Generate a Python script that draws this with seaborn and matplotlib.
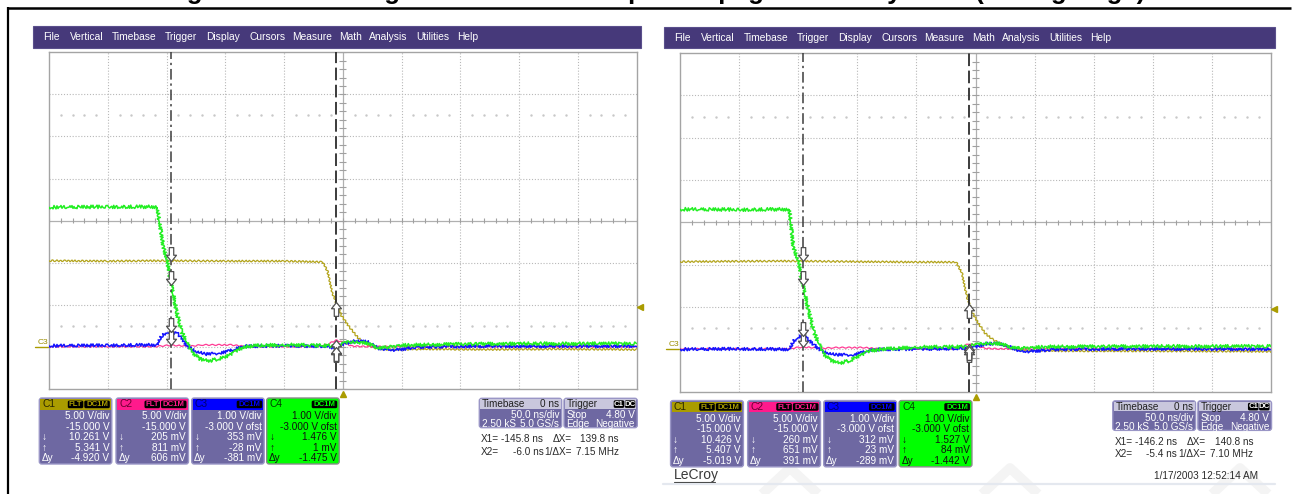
import matplotlib
matplotlib.use("Agg")
import numpy as np
import pandas as pd
import matplotlib.pyplot as plt
import seaborn as sns
from matplotlib.patches import FancyBboxPatch, Rectangle
from matplotlib.path import Path
from matplotlib.markers import MarkerStyle

W, H, DPI = 1298, 494, 100

sns.set_theme(style="white")
plt.rcParams["font.family"] = ["Liberation Sans", "DejaVu Sans"]

# ---------------------------------------------------------------- data
TITLE = "Figure 8. Switching Waveforms of Output Propagation Delay Time (Falling Edge)"

MENU_ITEMS = ["File", "Vertical", "Timebase", "Trigger", "Display", "Cursors",
              "Measure", "Math", "Analysis", "Utilities", "Help"]
MENU_X = [-6, 21, 63, 116, 157, 200, 243, 290, 320, 367, 408]

CHANNELS = ["C1", "C2", "C3", "C4"]
VOLTS_PER_DIV = [5.0, 5.0, 1.0, 1.0]
OFFSET_V = [-15.0, -15.0, -3.0, -3.0]
VDIV_TEXT = ["5.00 V/div", "5.00 V/div", "1.00 V/div", "1.00 V/div"]
OFFSET_TEXT = ["-15.000 V", "-15.000 V", "-3.000 V ofst", "-3.000 V ofst"]
COUPLING = [["FLT", "DC1M"], ["FLT", "DC1M"], ["DC1M"], ["DC1M"]]
CH_COLORS = ["#b3a41c", "#ff3b94", "#1414ff", "#22ee22"]
HEADER_COLORS = ["#aa9c00", "#ff1a8c", "#0000ff", "#00ff00"]
HEADER_TEXT = ["#2a2600", "#6a0030", "#00006a", "#004000"]

NS_PER_DIV = 50.0
SAMPLES_TEXT, RATE_TEXT = "2.50 kS", "5.0 GS/s"
TRIG_DELAY_NS = 0.0
TRIG_LEVEL_V = 4.80
TRIG_MODE, TRIG_SLOPE = "Stop", "Negative"

# Acquisition A (left screen)
a_c1_t = [-250, -200, -150, -100, -50, -17, -13, -9, -6, -1, 6, 13, 20, 29, 40, 70, 120, 180, 250]
a_c1_v = [10.25, 10.2, 10.25, 10.2, 10.2, 10.1, 9.0, 6.5, 5.34, 3.7, 2.3, 1.1, 0.3, -0.2, -0.3,
          -0.25, -0.3, -0.25, -0.3]
a_c2_t = [-250, -160, -150, -145.8, -140, -130, -120, -95, -82, -20, -12, -6, 0, 8, 20, 250]
a_c2_v = [0.05, 0.05, 0.18, 0.205, 0.18, 0.08, 0.25, 0.25, 0.05, 0.05, 0.35, 0.811, 0.55, 0.1,
          0.05, 0.05]
a_c3_t = [-250, -200, -158.3, -155.5, -151.2, -145.8, -140.1, -136.7, -132.4, -125.6, -117.1,
          -108.6, -100, -91.6, -83, -50, -15, -6, 2, 10.6, 21.7, 30, 44.7, 65, 120, 250]
a_c3_v = [0.03, 0.04, 0.05, 0.21, 0.33, 0.353, 0.31, 0.21, 0.02, -0.1, -0.17, -0.155, -0.12,
          -0.05, 0.02, 0.03, 0.02, -0.028, 0.09, 0.14, 0.12, -0.03, -0.07, 0.0, 0.02, 0.02]
a_c4_t = [-250, -200, -158, -152.6, -149.7, -145.8, -141.2, -137, -132.7, -127.3, -121.4,
          -112.9, -101.8, -93.3, -84.8, -70, -40, -10, -6, 0, 6, 19, 32, 49, 100, 160, 250]
a_c4_v = [3.32, 3.33, 3.33, 2.38, 2.07, 1.476, 0.81, 0.36, 0.095, -0.14, -0.285, -0.325, -0.26,
          -0.14, 0.0, 0.04, 0.05, 0.03, 0.001, 0.08, 0.13, 0.1, -0.03, 0.04, 0.07, 0.08, 0.08]
a_cursor_ns = [-145.8, -6.0]
a_down_v = [10.261, 0.205, 0.353, 1.476]
a_up_v = [5.341, 0.811, -0.028, 0.001]
a_dy_v = [-4.920, 0.606, -0.381, -1.475]

# Acquisition B (right screen)
b_c1_t = [-250, -200, -150, -100, -50, -16.4, -11.5, -7.3, -5.4, -3.1, 2.5, 8.2, 15.3, 23.7,
          32.2, 45, 80, 150, 250]
b_c1_v = [10.35, 10.4, 10.426, 10.35, 10.3, 10.3, 8.97, 6.2, 5.407, 4.43, 3.06, 1.88, 1.09, 0.5,
          0.0, -0.15, -0.2, -0.2, -0.25]
b_c2_t = [-250, -160, -150, -146.2, -140, -130, -120, -95, -82, -20, -10, -5.4, 0, 8, 20, 250]
b_c2_v = [0.05, 0.05, 0.22, 0.26, 0.22, 0.1, 0.2, 0.2, 0.05, 0.05, 0.4, 0.651, 0.45, 0.1,
          0.05, 0.05]
b_c3_t = [-250, -200, -157.9, -153.6, -148.5, -146.2, -141.8, -135.8, -129, -118.9, -102, -91,
          -80, -40, -5.4, 0, 8.2, 21, 29.4, 38, 46, 70, 150, 250]
b_c3_v = [0.0, 0.01, 0.0, 0.21, 0.31, 0.312, 0.24, 0.08, -0.06, -0.13, -0.13, -0.03, 0.0, 0.01,
          0.023, 0.05, 0.13, 0.13, 0.05, -0.04, -0.05, 0.0, 0.01, 0.0]
b_c4_t = [-250, -200, -157.6, -154.2, -150, -146.2, -141.5, -137.3, -133, -127.4, -121.7,
          -114.7, -106.2, -97.7, -89.2, -80.8, -50, -10, -5.4, 0, 8, 20, 35, 60, 150, 250]
b_c4_v = [3.31, 3.3, 3.31, 2.42, 2.07, 1.527, 0.93, 0.45, 0.14, -0.14, -0.27, -0.32, -0.27,
          -0.14, -0.035, 0.0, 0.05, 0.06, 0.084, 0.1, 0.15, 0.13, 0.02, 0.06, 0.07, 0.07]
b_cursor_ns = [-146.2, -5.4]
b_down_v = [10.426, 0.260, 0.312, 1.527]
b_up_v = [5.407, 0.651, 0.023, 0.084]
b_dy_v = [-5.019, 0.391, -0.289, -1.442]
b_timestamp = "1/17/2003 12:52:14 AM"

# ---------------------------------------------------------------- helpers
PURPLE = "#6e68a2"
PANEL_EDGE = "#9a96c6"
MENU_BG = "#46397a"
TXT = dict(fontsize=7.2)


def fmt_v(v):
    return f"{v:.3f} V" if abs(v) >= 1 else f"{round(v * 1000):d} mV"


def to_div(v, ch):
    return (np.asarray(v, float) + OFFSET_V[ch]) / VOLTS_PER_DIV[ch]


def arrow_marker(up):
    sgn = -1 if up else 1
    verts = [(-0.16, 1.0), (0.16, 1.0), (0.16, 0.45), (0.36, 0.45), (0.0, 0.0),
             (-0.36, 0.45), (-0.16, 0.45), (-0.16, 1.0)]
    verts = [(x, sgn * y) for x, y in verts]
    codes = [Path.MOVETO] + [Path.LINETO] * 6 + [Path.CLOSEPOLY]
    return MarkerStyle(Path(verts, codes))


fig = plt.figure(figsize=(W / DPI, H / DPI), dpi=DPI)
bg = fig.add_axes([0, 0, 1, 1])
bg.set_xlim(0, W)
bg.set_ylim(H, 0)
bg.axis("off")

# page frame and heading (only its lower edge falls inside the page)
bg.plot([7, 1291], [7.6, 7.6], color="black", lw=1.8, solid_capstyle="butt")
bg.plot([7.6, 7.6], [7, H], color="black", lw=1.6, solid_capstyle="butt")
bg.text(655, -0.6, TITLE, ha="center", va="baseline", fontsize=18.5, fontweight="bold",
        color="black")

# faint page watermark
for cx in (790, 1010, 1240):
    bg.plot([cx - 28, cx, cx + 28], [494, 468, 494], color="#f4f4f4", lw=7,
            solid_capstyle="butt", zorder=0)


def draw_scope(ox, oy, s, traces, cur_ns, down_v, up_v, dy_v, timestamp=None):
    def P(x, y):
        return ox + x * s, oy + y * s

    # menu bar
    x0, y0 = P(-16.5, -26.2)
    bg.add_patch(Rectangle((x0, y0), 608.5 * s, 21.5 * s, fc=MENU_BG, ec="#5a4f8c", lw=0.8))
    for label, mx in zip(MENU_ITEMS, MENU_X):
        tx, ty = P(mx, -15.3)
        bg.text(tx, ty, label, color="white", fontsize=7.4, ha="left", va="center")

    # graticule
    gw, gh = 587.5 * s, 336.8 * s
    ax = fig.add_axes([ox / W, 1 - (oy + gh) / H, gw / W, gh / H])
    ax.set_xlim(-5 * NS_PER_DIV, 5 * NS_PER_DIV)
    ax.set_ylim(-4, 4)
    ax.set_xticks([])
    ax.set_yticks([])
    ax.set_facecolor("white")
    for sp in ax.spines.values():
        sp.set_color("#a4a4a4")
        sp.set_linewidth(1.0)
    grid_kw = dict(color="#b8b8b8", lw=0.8, ls=(0, (1, 1.6)), zorder=1)
    for i in range(-4, 5):
        if i != 0:
            ax.axvline(i * NS_PER_DIV, **grid_kw)
    for j in range(-3, 4):
        if j != 0:
            ax.axhline(j, **grid_kw)
    ax.axvline(0, color="#b0b0b0", lw=0.9, zorder=1)
    ax.axhline(0, color="#b0b0b0", lw=0.9, zorder=1)
    minor_t = np.arange(-5 * NS_PER_DIV, 5 * NS_PER_DIV + 1, NS_PER_DIV / 5)
    ax.vlines(minor_t, -0.06, 0.06, color="#a0a0a0", lw=0.8, zorder=1)
    minor_v = np.arange(-4, 4.001, 0.2)
    ax.hlines(minor_v, -3, 3, color="#a0a0a0", lw=0.8, zorder=1)
    dot_t = [t for t in minor_t if abs(t % NS_PER_DIV) > 1e-6 and abs(t) < 5 * NS_PER_DIV]
    for lvl in (-2.5, 2.5):
        ax.plot(dot_t, [lvl] * len(dot_t), ls="none", marker="s", ms=0.7, color="#c8c8c8",
                zorder=1)

    # waveforms
    sketch = [(0.9, 4, 1.5), (0.6, 6, 1.5), (1.5, 2.5, 2), (1.7, 2.5, 2)]
    widths = [0.9, 0.9, 1.1, 1.1]
    for ch, (t, v) in enumerate(traces):
        df = pd.DataFrame({"t": t, "div": to_div(v, ch)})
        sns.lineplot(data=df, x="t", y="div", ax=ax, color=CH_COLORS[ch], lw=widths[ch],
                     sort=False, estimator=None, legend=False, zorder=3 + ch)
        ax.lines[-1].set_sketch_params(*sketch[ch])
    ax.set_xlabel("")
    ax.set_ylabel("")

    # cursors
    ax.axvline(cur_ns[0], color="#3c3c3c", lw=1.1, ls=(0, (7, 2.5, 1.5, 2.5)), zorder=8)
    ax.axvline(cur_ns[1], color="#2c2c2c", lw=1.3, ls=(0, (7, 2.5)), zorder=8)
    for ch in range(4):
        ax.plot(cur_ns[0], to_div(down_v[ch], ch), marker=arrow_marker(False), ms=20,
                mfc="white", mec="#505050", mew=0.9, zorder=9, ls="none")
        ax.plot(cur_ns[1], to_div(up_v[ch], ch), marker=arrow_marker(True), ms=20,
                mfc="white", mec="#505050", mew=0.9, zorder=9, ls="none")

    # trigger markers
    ax.plot(5 * NS_PER_DIV + 3, to_div(TRIG_LEVEL_V, 0), marker="<", ms=5, color="#aa9c00",
            clip_on=False, zorder=10)
    ax.plot(TRIG_DELAY_NS, -4.12, marker="^", ms=5, color="#aa9c00", clip_on=False, zorder=10)

    # ground reference tag
    gx, gy = P(-6, 290.3)
    bg.text(gx, gy, "C3", color="#9a8c00", fontsize=6, ha="center", va="center")
    lx0, ly = P(-14, 294.6)
    lx1, _ = P(-1, 294.6)
    bg.plot([lx0, lx1], [ly, ly], color="#aa9c00", lw=1.0)

    # channel panels
    pxs = [-9.7, 67.0, 142.7, 217.7]
    pw, ph, hh = 72.5, 66.0, 10.5
    rows = [363.7, 374.2, 384.7, 395.2, 405.7]
    for ch in range(4):
        body = HEADER_COLORS[3] if ch == 3 else PURPLE
        edge = "#8a8a8a" if ch == 3 else PANEL_EDGE
        fg = "#101010" if ch == 3 else "white"
        x, y = P(pxs[ch], 345.7)
        bg.add_patch(FancyBboxPatch((x, y), pw * s, ph * s,
                                    boxstyle="round,pad=0,rounding_size=2.5",
                                    fc=body, ec=edge, lw=1.0, zorder=2))
        bg.add_patch(Rectangle((x + 1, y + 1), pw * s - 2, hh * s, fc=HEADER_COLORS[ch],
                               ec="none", zorder=3))
        bg.text(x + 3, y + 1 + hh * s / 2, CHANNELS[ch], color=HEADER_TEXT[ch], fontsize=7.4,
                ha="left", va="center", zorder=4)
        bx = {"FLT": 28.5, "DC1M": 45.0}
        bwid = {"FLT": 15.5, "DC1M": 25.5}
        for tag in COUPLING[ch]:
            tx = x + bx[tag] * s
            bg.add_patch(FancyBboxPatch((tx, y + 2.6), bwid[tag] * s, 7.6,
                                        boxstyle="round,pad=0,rounding_size=1.5",
                                        fc="black", ec="none", zorder=4))
            bg.text(tx + bwid[tag] * s / 2, y + 6.5, tag, color=HEADER_COLORS[ch],
                    fontsize=5.6, fontweight="bold", ha="center", va="center", zorder=5)
        right = x + pw * s - 2.5
        vals = [VDIV_TEXT[ch], OFFSET_TEXT[ch], fmt_v(down_v[ch]), fmt_v(up_v[ch]),
                fmt_v(dy_v[ch])]
        syms = ["", "", "\u2193", "\u2191", "\u0394y"]
        for r, (val, sym) in enumerate(zip(vals, syms)):
            _, ry = P(0, rows[r])
            bg.text(right, ry, val, color=fg, ha="right", va="center", zorder=4, **TXT)
            if sym:
                bg.text(x + 2.5, ry, sym, color=fg, ha="left", va="center", zorder=4, **TXT)

    # timebase / trigger panels
    def info_panel(px, pwid, head_l, head_r, body_rows, badges=()):
        x, y = P(px, 346.0)
        bg.add_patch(FancyBboxPatch((x, y), pwid * s, 29.4 * s,
                                    boxstyle="round,pad=0,rounding_size=2.5",
                                    fc=PURPLE, ec=PANEL_EDGE, lw=1.0, zorder=2))
        bg.add_patch(Rectangle((x + 1, y + 1), pwid * s - 2, 9.4 * s, fc="#c9c7dd",
                               ec="none", zorder=3))
        bg.text(x + 2.5, y + 5.8, head_l, color="#202020", ha="left", va="center",
                zorder=4, **TXT)
        if head_r:
            bg.text(x + pwid * s - 2.5, y + 5.8, head_r, color="#202020", ha="right",
                    va="center", zorder=4, **TXT)
        bxr = x + pwid * s - 2
        for tag in reversed(badges):
            bw = 10.5
            bg.add_patch(FancyBboxPatch((bxr - bw, y + 2), bw, 7.6,
                                        boxstyle="round,pad=0,rounding_size=1.5",
                                        fc="black", ec="none", zorder=4))
            bg.text(bxr - bw / 2, y + 6, tag, color="white", fontsize=5.6, fontweight="bold",
                    ha="center", va="center", zorder=5)
            bxr -= bw + 0.6
        for (left_txt, right_txt), ry in zip(body_rows, (362.9, 371.6)):
            _, yy = P(0, ry)
            if left_txt:
                bg.text(x + 2.5, yy, left_txt, color="white", ha="left", va="center",
                        zorder=4, **TXT)
            bg.text(x + pwid * s - 2.5, yy, right_txt, color="white", ha="right",
                    va="center", zorder=4, **TXT)

    info_panel(430.3, 82.4, "Timebase", f"{TRIG_DELAY_NS:.0f} ns",
               [("", f"{NS_PER_DIV:.1f} ns/div"), (SAMPLES_TEXT, RATE_TEXT)])
    info_panel(515.0, 73.3, "Trigger", "",
               [(TRIG_MODE, f"{TRIG_LEVEL_V:.2f} V"), ("Edge", TRIG_SLOPE)],
               badges=("C1", "DC"))

    # cursor readout
    dx = cur_ns[1] - cur_ns[0]
    readout = [("X1=", f"{cur_ns[0]:.1f} ns", "\u0394X=", f"{dx:.1f} ns"),
               ("X2=", f"{cur_ns[1]:.1f} ns", "1/\u0394X=", f"{1000.0 / dx:.2f} MHz")]
    for (l1, v1, l2, v2), ry in zip(readout, (386.7, 399.4)):
        a, yy = P(432.0, ry)
        bg.text(a, yy, l1, color="#2a2a2a", ha="left", va="center", **TXT)
        bg.text(P(494.3, 0)[0], yy, v1, color="#2a2a2a", ha="right", va="center", **TXT)
        bg.text(P(522.7, 0)[0], yy, l2, color="#2a2a2a", ha="right", va="center", **TXT)
        bg.text(P(570.0, 0)[0], yy, v2, color="#2a2a2a", ha="right", va="center", **TXT)

    if timestamp:
        lx, ly = P(-6.3, 419.5)
        bg.text(lx, ly, "LeCroy", color="#3a3a3a", fontsize=10, ha="left", va="center")
        bg.plot([lx, lx + 41], [ly + 7, ly + 7], color="#3a3a3a", lw=0.8)
        tx, ty = P(575.0, 420.6)
        bg.text(tx, ty, timestamp, color="#2a2a2a", ha="right", va="center", **TXT)
        x0, _ = P(-17, 0)
        x1, _ = P(592, 0)
        bg.plot([x0, x1], [483.5, 483.5], color="#e4e8ef", lw=1.6)


draw_scope(49.0, 52.3, 1.0,
           [(a_c1_t, a_c1_v), (a_c2_t, a_c2_v), (a_c3_t, a_c3_v), (a_c4_t, a_c4_v)],
           a_cursor_ns, a_down_v, a_up_v, a_dy_v)
draw_scope(680.3, 53.1, 1.005,
           [(b_c1_t, b_c1_v), (b_c2_t, b_c2_v), (b_c3_t, b_c3_v), (b_c4_t, b_c4_v)],
           b_cursor_ns, b_down_v, b_up_v, b_dy_v, timestamp=b_timestamp)

fig.savefig("out.png", dpi=DPI)
